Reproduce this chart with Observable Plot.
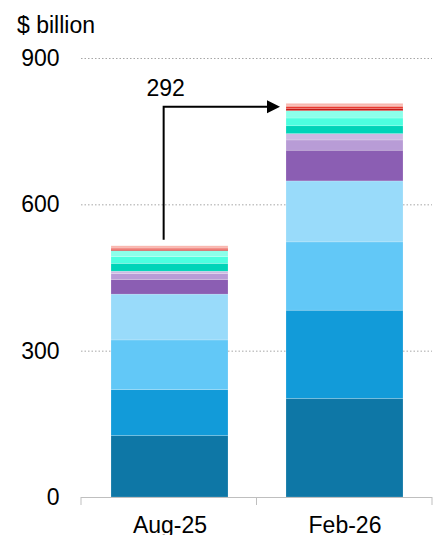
<!DOCTYPE html>
<html>
<head>
<meta charset="utf-8">
<script src="https://cdn.jsdelivr.net/npm/d3@7"></script>
<script src="https://cdn.jsdelivr.net/npm/@observablehq/plot@0.6"></script>
<style>
  body { margin: 0; background: #fff; }
  #chart svg { display: block; }
</style>
</head>
<body>
<div id="chart"></div>
<script>
// Periods on the x axis
const periods = ["Aug-25", "Feb-26"];

// Stack components, bottom to top
const segments = ["c1", "c2", "c3", "c4", "c5", "c6", "c7", "c8", "c9", "c10", "c11", "c12", "c13", "c14"];

// Values per component ($ billion), bottom to top
const aug25 = [126, 94, 102, 94, 30, 12, 5, 16, 14, 12, 2, 3, 2, 3];
const feb26 = [202, 181, 140, 125, 63, 21, 13, 16, 16, 15, 4, 4, 3, 4];

// Fill colours, bottom to top
const palette = [
  "#0e77a6", "#129bd9", "#62c8f7", "#99dbfa",
  "#8b5eb3", "#b89cd6", "#cdb9e3",
  "#00d4b8", "#4dffe0", "#8cffea",
  "#c01b17", "#e8372e", "#f17d70", "#f9b6ae"
];

// Y axis ticks
const yTicks = [0, 300, 600, 900];

const rows = [];
segments.forEach((s, i) => {
  rows.push({period: periods[0], segment: s, value: aug25[i]});
  rows.push({period: periods[1], segment: s, value: feb26[i]});
});

const totalAug = d3.sum(aug25);
const totalFeb = d3.sum(feb26);
const change = totalFeb - totalAug;
const arrowLevel = 800;

const font = "'Liberation Sans', Arial, Helvetica, sans-serif";

const chart = Plot.plot({
  width: 438,
  height: 535,
  marginLeft: 81,
  marginRight: 6,
  marginTop: 58,
  marginBottom: 38,
  style: {fontFamily: font, fontSize: "23px", color: "#000", background: "#fff"},
  x: {domain: periods, paddingInner: 1 / 3, paddingOuter: 1 / 6, axis: null},
  y: {domain: [0, 900], axis: null},
  color: {domain: segments, range: palette},
  marks: [
    Plot.ruleY(yTicks.filter(d => d > 0), {stroke: "#a6a6a6", strokeDasharray: "1.5,2"}),
    Plot.barY(rows, {x: "period", y: "value", fill: "segment", stroke: "#fff", strokeWidth: 0.5, strokeOpacity: 0.35}),
    Plot.axisY({ticks: yTicks, tickSize: 0, tickPadding: 22, label: null, fontSize: 23}),
    Plot.axisX({tickSize: 0, tickPadding: 19, label: null, fontSize: 23}),
    Plot.ruleY([0], {stroke: "#bfbfbf"})
  ]
});

document.getElementById("chart").appendChild(chart);

const svg = d3.select(chart);
const xs = chart.scale("x");
const ys = chart.scale("y");
const x0 = xs.range[0], x1 = xs.range[1];
const step = (x1 - x0) / periods.length;
const y0 = ys.apply(0);

// Category boundary ticks below the baseline
const bounds = d3.range(periods.length + 1).map(i => x0 + i * step);
svg.append("g")
  .selectAll("line")
  .data(bounds)
  .join("line")
  .attr("x1", d => d).attr("x2", d => d)
  .attr("y1", y0).attr("y2", y0 + 8)
  .attr("stroke", "#bfbfbf");

// Unit label
svg.append("text")
  .attr("x", 17)
  .attr("y", 33)
  .attr("text-anchor", "start")
  .attr("font-family", font)
  .attr("font-size", 23)
  .attr("fill", "#000")
  .text("$ billion");

// Elbow arrow from the first bar to the second, with the change label
const bw = xs.bandwidth;
const ax = xs.apply(periods[0]) + bw * 0.45;
const ay = ys.apply(arrowLevel);
const aBottom = ys.apply(totalAug) - 6;
const aEnd = xs.apply(periods[1]) - 6;
const head = 13;

svg.append("path")
  .attr("d", `M${ax},${aBottom}V${ay}H${aEnd - head + 1}`)
  .attr("fill", "none")
  .attr("stroke", "#000")
  .attr("stroke-width", 2);

svg.append("path")
  .attr("d", `M${aEnd},${ay}L${aEnd - head},${ay - 6.5}L${aEnd - head},${ay + 6.5}Z`)
  .attr("fill", "#000");

svg.append("text")
  .attr("x", ax + 2)
  .attr("y", ay - 11)
  .attr("text-anchor", "middle")
  .attr("font-family", font)
  .attr("font-size", 23)
  .attr("fill", "#000")
  .text(String(change));
</script>
</body>
</html>
